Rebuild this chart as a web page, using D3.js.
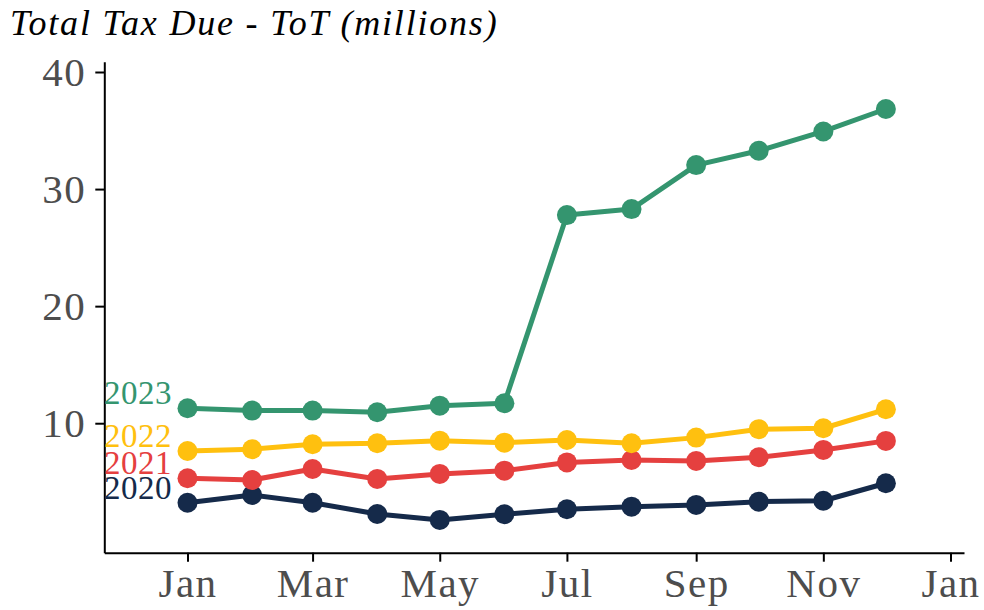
<!DOCTYPE html>
<meta charset="utf-8">
<head>
  <title>Total Tax Due - ToT</title>
</head>
<style>
body {
  margin: 0;
  background: #fff;
}
svg text {
  font-family: "Liberation Serif", "DejaVu Serif", serif;
}
.title {
  font-style: italic;
  font-size: 36px;
  letter-spacing: 1.8px;
  fill: #000;
}
.axis text {
  font-size: 41px;
  letter-spacing: 1.5px;
  fill: #4d4d4d;
}
.axis path,
.axis line {
  stroke: #000;
  stroke-width: 2px;
}
.line {
  fill: none;
  stroke-width: 5px;
  stroke-linejoin: round;
}
.yearLabel {
  font-size: 33px;
  letter-spacing: 0.5px;
}
</style>
<body>
<script src="https://cdn.jsdelivr.net/npm/d3@7"></script>
<script>
var width = 984,
  height = 610

// data (one value per month, Jan..Dec)
var months = ["Jan", "Feb", "Mar", "Apr", "May", "Jun", "Jul", "Aug", "Sep", "Oct", "Nov", "Dec"]
var years = ["2020", "2021", "2022", "2023"]
var v2020 = [3.21, 3.87, 3.21, 2.25, 1.74, 2.22, 2.65, 2.87, 3.02, 3.30, 3.38, 4.87]
var v2021 = [5.30, 5.15, 6.09, 5.24, 5.67, 5.95, 6.65, 6.86, 6.78, 7.09, 7.72, 8.49]
var v2022 = [7.63, 7.78, 8.20, 8.29, 8.51, 8.34, 8.57, 8.29, 8.77, 9.49, 9.57, 11.19]
var v2023 = [11.28, 11.08, 11.08, 10.94, 11.50, 11.71, 27.78, 28.29, 32.05, 33.27, 34.92, 36.84]
var colors = ["#152a4a", "#e5403f", "#ffc00f", "#34956f"]
var yTicks = [10, 20, 30, 40]

var seriesValues = [v2020, v2021, v2022, v2023]
var series = years.map(function(yr, i) {
  return {
    name: yr,
    color: colors[i],
    values: seriesValues[i].map(function(v, m) {
      return { date: new Date(2020, m, 1), value: v }
    })
  }
})

// plot box (pixels)
var plotLeft = 104.3, plotRight = 964, plotTop = 61.7, plotBottom = 552.7

// time scale pinned so Jan..next Jan sit where the reference puts them
var xInner = d3.scaleTime()
  .domain([new Date(2020, 0, 1), new Date(2021, 0, 1)])
  .range([187.5, 950.5])
var x = d3.scaleTime()
  .domain([xInner.invert(plotLeft), xInner.invert(plotRight)])
  .range([plotLeft, plotRight])

var y = d3.scaleLinear()
  .domain([-1.06, 40.88])
  .range([plotBottom, plotTop])

var svg = d3.select("body").append("svg")
  .attr("width", width)
  .attr("height", height)

svg.append("text")
  .attr("class", "title")
  .attr("x", 10)
  .attr("y", 35)
  .text("Total Tax Due - ToT (millions)")

// axes
var xAxis = d3.axisBottom(x)
  .ticks(d3.timeMonth.every(2))
  .tickFormat(d3.timeFormat("%b"))
  .tickSize(9)
  .tickSizeOuter(0)
  .tickPadding(6)

svg.append("g")
  .attr("class", "axis x")
  .attr("transform", "translate(0," + plotBottom + ")")
  .call(xAxis)

var yAxis = d3.axisLeft(y)
  .tickValues(yTicks)
  .tickSize(9)
  .tickSizeOuter(0)
  .tickPadding(9)

svg.append("g")
  .attr("class", "axis y")
  .attr("transform", "translate(" + plotLeft + ",0)")
  .call(yAxis)

// let the css pick the font
svg.selectAll(".axis").attr("font-family", null).attr("font-size", null)

// lines + points
var line = d3.line()
  .x(function(d) { return x(d.date) })
  .y(function(d) { return y(d.value) })

var g = svg.selectAll(".series")
  .data(series)
.enter().append("g")
  .attr("class", "series")

g.append("path")
  .attr("class", "line")
  .attr("stroke", function(d) { return d.color })
  .attr("d", function(d) { return line(d.values) })

g.selectAll("circle")
  .data(function(d) { return d.values.map(function(p) { return { p: p, color: d.color } }) })
.enter().append("circle")
  .attr("cx", function(d) { return x(d.p.date) })
  .attr("cy", function(d) { return y(d.p.value) })
  .attr("r", 10)
  .attr("fill", function(d) { return d.color })

// year labels just left of the first point
svg.selectAll(".yearLabel")
  .data(series)
.enter().append("text")
  .attr("class", "yearLabel")
  .attr("x", function(d) { return x(d.values[0].date) - 15.5 })
  .attr("y", function(d) { return y(d.values[0].value) - 4 })
  .attr("text-anchor", "end")
  .attr("fill", function(d) { return d.color })
  .text(function(d) { return d.name })
</script>
</body>
</html>
